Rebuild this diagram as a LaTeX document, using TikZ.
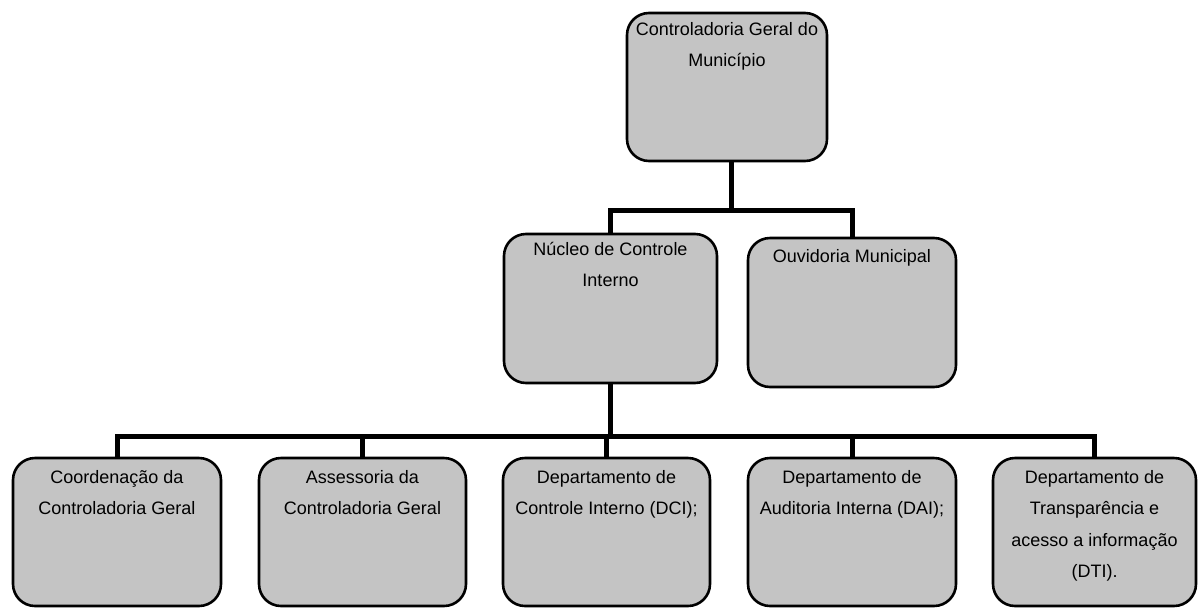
\documentclass[tikz,border=0pt]{standalone}
\usepackage{fontspec}
\setmainfont{Liberation Sans}
\definecolor{boxgray}{RGB}{196,196,196}
\newcommand\boxtxt[4]{\parbox[c][#2][t]{#1}{\centering\fontsize{18pt}{31.5pt}\selectfont\rule{0pt}{#3}#4\par}}
\begin{document}
\begin{tikzpicture}[x=1pt,y=-1pt,
  orgbox/.style={draw=black,line width=2.6pt,rounded corners=22pt,fill=boxgray,inner sep=0pt},
  conn/.style={line width=5pt,line join=miter}]
\useasboundingbox (0,0) rectangle (1200,611);
% boxes
\node[orgbox] (top) at (727,87) {\boxtxt{200pt}{148pt}{22pt}{Controladoria Geral do\\Município}};
\node[orgbox] (nuc) at (610.5,308.5) {\boxtxt{213pt}{149pt}{21pt}{Núcleo de Controle\\Interno}};
\node[orgbox] (ouv) at (852,312.5) {\boxtxt{208pt}{149pt}{24pt}{Ouvidoria Municipal}};
\node[orgbox] (b1) at (117,532) {\boxtxt{208pt}{148pt}{25pt}{Coordenação da\\Controladoria Geral}};
\node[orgbox] (b2) at (362.5,532) {\boxtxt{207pt}{148pt}{25pt}{Assessoria da\\Controladoria Geral}};
\node[orgbox] (b3) at (606.5,532) {\boxtxt{207pt}{148pt}{25pt}{Departamento de\\Controle Interno (DCI);}};
\node[orgbox] (b4) at (852,532) {\boxtxt{208pt}{148pt}{25pt}{Departamento de\\Auditoria Interna (DAI);}};
\node[orgbox] (b5) at (1094.5,532) {\boxtxt{203pt}{148pt}{25pt}{Departamento de\\Transparência e\\acesso a informação\\(DTI).}};
% junctions
\coordinate (tj) at (731,210);
\coordinate (bj) at (608,436);
% connectors
\draw[conn] (tj |- top.south) -- (tj);
\draw[conn] (nuc.north) |- (tj) -| (ouv.north);
\draw[conn] (nuc.south) -- (nuc.south |- bj);
\draw[conn] (b1.north) |- (bj) -| (b5.north);
\draw[conn] (b2.north) -- (b2.north |- bj);
\draw[conn] (b3.north) -- (b3.north |- bj);
\draw[conn] (b4.north) -- (b4.north |- bj);
\end{tikzpicture}
\end{document}
